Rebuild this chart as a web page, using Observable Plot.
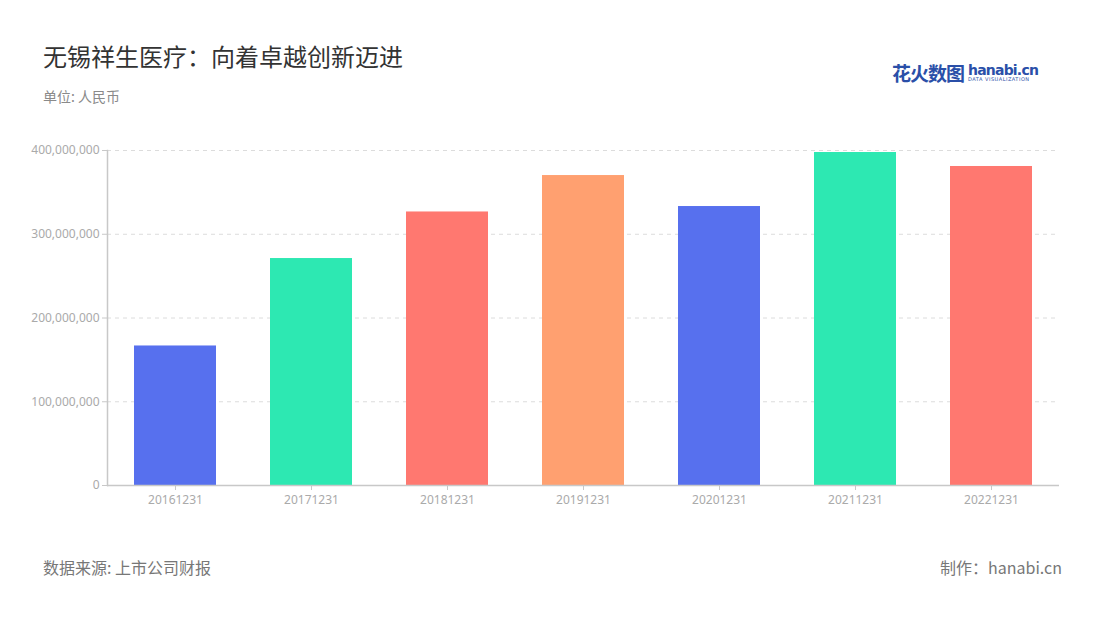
<!DOCTYPE html>
<html>
<head>
<meta charset="utf-8">
<script src="https://cdn.jsdelivr.net/npm/d3@7"></script>
<script src="https://cdn.jsdelivr.net/npm/@observablehq/plot@0.6"></script>
<style>
body{margin:0;background:#fff;font-family:"Noto Sans CJK SC","Noto Sans",sans-serif;}
#wrap{position:relative;width:1100px;height:620px;overflow:hidden;}
#title{position:absolute;left:43px;top:38px;font-size:24px;color:#333;}
#sub{position:absolute;left:43px;top:86px;font-size:14px;color:#8a8a8a;}
#src{position:absolute;left:43px;top:555px;font-size:16px;color:#777;}
#credit{position:absolute;right:38px;top:555px;font-size:16px;color:#777;}
#logo{position:absolute;left:892px;top:59px;display:flex;align-items:center;}
#logo .cn{font-size:19px;font-weight:bold;color:#2a4fa8;letter-spacing:-1px;}
#logo .en{margin-left:4px;line-height:1;}
#logo .en1{font-size:14px;font-weight:bold;color:#2a4fa8;font-family:"DejaVu Sans",sans-serif;letter-spacing:-0.8px;}
#logo .en2{font-size:5px;color:#2a4fa8;font-family:"DejaVu Sans",sans-serif;letter-spacing:0.5px;}
#chart{position:absolute;left:0;top:130px;}
</style>
</head>
<body>
<div id="wrap">
  <div id="title">无锡祥生医疗：向着卓越创新迈进</div>
  <div id="sub">单位: 人民币</div>
  <div id="logo"><span class="cn">花火数图</span><span class="en"><div class="en1">hanabi.cn</div><div class="en2">DATA VISUALIZATION</div></span></div>
  <div id="chart"></div>
  <div id="src">数据来源: 上市公司财报</div>
  <div id="credit">制作：hanabi.cn</div>
</div>
<script>
const dates = ["20161231","20171231","20181231","20191231","20201231","20211231","20221231"];
const values = [166600000, 271000000, 326600000, 370100000, 333100000, 397600000, 380900000];
const barColors = ["#5770EE","#2DE8B2","#FF7870","#FFA070","#5770EE","#2DE8B2","#FF7870"];
const yTicks = [0, 100000000, 200000000, 300000000, 400000000];

const data = dates.map((d, i) => ({date: d, value: values[i], color: barColors[i]}));

const chart = Plot.plot({
  width: 1100,
  height: 380,
  marginTop: 20,
  marginBottom: 25,
  marginLeft: 107,
  marginRight: 41,
  style: {fontFamily: "'Noto Sans', sans-serif", fontSize: "12px", color: "#aaa", background: "transparent"},
  x: {domain: dates, paddingInner: 0.4, paddingOuter: 0.2, label: null},
  y: {domain: [0, 400000000], label: null},
  marks: [
    Plot.gridY(yTicks, {stroke: "#dcdcdc", strokeOpacity: 1, strokeDasharray: "4,4"}),
    Plot.barY(data, {x: "date", y: "value", fill: "color"}),
    Plot.ruleY([0], {stroke: "#c8c8c8", strokeWidth: 1.5}),
    Plot.frame({anchor: "left", stroke: "#c8c8c8", strokeWidth: 1.5}),
    Plot.axisY(yTicks, {tickFormat: d3.format(","), tickSize: 5, tickPadding: 3, stroke: "#c8c8c8", fill: "#aaa", fontSize: 12}),
    Plot.axisX({tickSize: 5, tickPadding: 5, stroke: "#c8c8c8", fill: "#aaa", fontSize: 12})
  ]
});
document.getElementById("chart").appendChild(chart);
</script>
</body>
</html>
